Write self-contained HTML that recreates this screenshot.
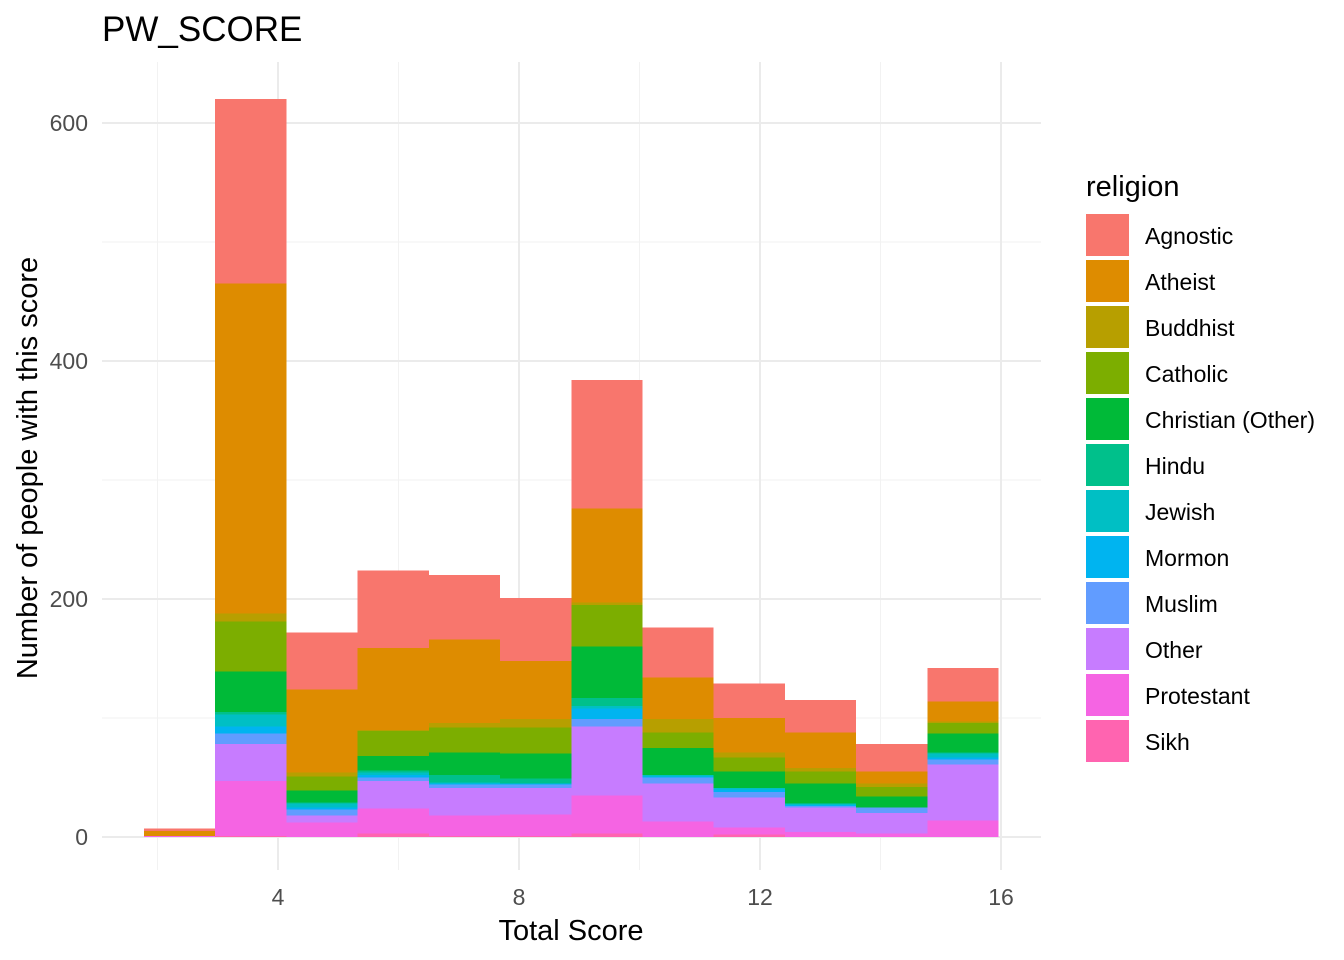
<!DOCTYPE html>
<html><head><meta charset="utf-8"><style>
body{margin:0;background:#fff;}
svg{display:block;font-family:"Liberation Sans",Arial,sans-serif;}
</style></head><body>
<svg id="chart" width="1344" height="960" viewBox="0 0 1344 960">
<rect width="1344" height="960" fill="#fff"/>
<text x="102" y="41" font-size="35" fill="#000">PW_SCORE</text>
<g id="grid"></g><g id="bars" shape-rendering="crispEdges"></g><g id="axes"></g><g id="legend"></g>
<text x="571" y="940" font-size="29" text-anchor="middle" fill="#000">Total Score</text>
<text transform="translate(37,468) rotate(-90)" font-size="29" text-anchor="middle" fill="#000">Number of people with this score</text>
</svg>
<script>
const religions = ["Agnostic","Atheist","Buddhist","Catholic","Christian (Other)","Hindu","Jewish","Mormon","Muslim","Other","Protestant","Sikh"];
const colors = ["#F8766D","#DE8C00","#B79F00","#7CAE00","#00BA38","#00C08B","#00BFC4","#00B4F0","#619CFF","#C77CFF","#F564E3","#FF64B0"];
const binStart = 1.776;
const binWidth = 1.182;
// counts per bin (12 bins), per religion
const agnostic  = [2,155,48,65,54,53,108,42,29,27,23,28];
const atheist   = [4,277,70,69,70,49,79,35,29,30,10,17];
const buddhist  = [0,7,3,1,4,7,2,11,4,3,3,1];
const catholic  = [0,42,12,21,21,22,35,13,12,10,8,9];
const christian = [0,34,10,12,19,21,43,23,14,17,9,16];
const hindu     = [0,2,1,2,6,4,7,0,0,0,0,1];
const jewish    = [0,10,3,2,1,0,2,1,1,1,0,3];
const mormon    = [0,6,2,2,1,1,9,1,2,1,0,2];
const muslim    = [0,9,5,3,3,3,6,5,5,1,5,4];
const other     = [0,31,6,23,23,22,58,32,25,21,17,47];
const protestant= [1,46,12,21,17,18,32,13,6,4,3,14];
const sikh      = [0,1,0,3,1,1,3,0,2,0,0,0];
const series = [agnostic,atheist,buddhist,catholic,christian,hindu,jewish,mormon,muslim,other,protestant,sikh];
const xTicks = [4,8,12,16];
const yTicks = [0,200,400,600];
const xMinor = [2,6,10,14];
const yMinor = [100,300,500];

const NS="http://www.w3.org/2000/svg";
const X0=102,X1=1041,Y0=62,Y1=870;
const xs=v=>278+(v-4)*60.25;
const ys=v=>837-v*1.19;
function mk(tag,attrs,parent){const e=document.createElementNS(NS,tag);for(const k in attrs)e.setAttribute(k,attrs[k]);parent.appendChild(e);return e;}
const grid=document.getElementById('grid'),bars=document.getElementById('bars'),axes=document.getElementById('axes'),legend=document.getElementById('legend');
xMinor.forEach(v=>{const l=mk('line',{x1:xs(v),x2:xs(v),y1:Y0,y2:Y1,stroke:'#f2f2f2','stroke-width':1},grid);

});
yMinor.forEach(v=>{const l=mk('line',{x1:X0,x2:X1,y1:ys(v),y2:ys(v),stroke:'#f2f2f2','stroke-width':1},grid);

});
xTicks.forEach(v=>{const l=mk('line',{x1:xs(v),x2:xs(v),y1:Y0,y2:Y1,stroke:'#ebebeb','stroke-width':2},grid);


const t=mk('text',{x:xs(v),y:905,'font-size':23,'text-anchor':'middle',fill:'#4d4d4d'},axes);t.textContent=v;

});
yTicks.forEach(v=>{const l=mk('line',{x1:X0,x2:X1,y1:ys(v),y2:ys(v),stroke:'#ebebeb','stroke-width':2},grid);


const t=mk('text',{x:88,y:ys(v)+8,'font-size':23,'text-anchor':'end',fill:'#4d4d4d'},axes);t.textContent=v;

});
const nb=agnostic.length;
for(let b=0;b<nb;b++){
  let cum=0;
  const xl=xs(binStart+b*binWidth),xr=xs(binStart+(b+1)*binWidth);
  for(let r=series.length-1;r>=0;r--){
    const v=series[r][b]; if(v<=0)continue;
    const yt=ys(cum+v),yb=ys(cum);
    const rc=mk('rect',{x:xl,y:yt,width:xr-xl,height:yb-yt,fill:colors[r]},bars);
    
    
    cum+=v;
  }
}
const lt=mk('text',{x:1086,y:196,'font-size':29,fill:'#000'},legend);lt.textContent='religion';


religions.forEach((n,i)=>{
  const y=214+i*46;
  const k=mk('rect',{x:1086,y:y,width:43,height:42,fill:colors[i]},legend);
  
  
  const t=mk('text',{x:1145,y:y+30,'font-size':23,fill:'#000'},legend);t.textContent=n;
  
  
});
</script>
</body></html>
